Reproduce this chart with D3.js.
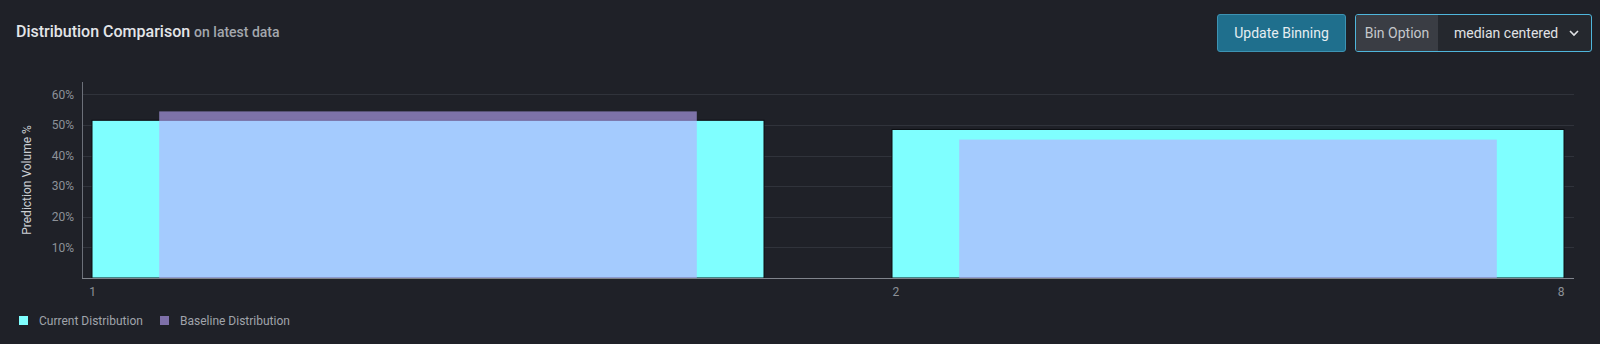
<!DOCTYPE html>
<html>
<head>
<meta charset="utf-8">
<script src="https://cdn.jsdelivr.net/npm/d3@7"></script>
<style>
  html, body { margin: 0; padding: 0; background: #1f2128; }
  body { width: 1600px; height: 344px; position: relative; overflow: hidden; font-family: Roboto, "Noto Sans", sans-serif; }
  #title { position: absolute; left: 16px; top: 22px; color: #e3e5e8; font-size: 16px; font-weight: 500; }
  #title span { color: #a3a7ad; font-size: 14px; font-weight: 500; }
  .btn { position: absolute; top: 14px; height: 38px; box-sizing: border-box; border-radius: 3px; font-size: 14px; }
  #update { left: 1217px; width: 129px; background: #1f6f8d; border: 1px solid #3d93b3; color: #e6eef2; line-height: 36px; text-align: center; }
  #binopt { left: 1355px; width: 237px; border: 1px solid #4fb6dc; background: #25282e; color: #e0e2e5; display: flex; overflow: hidden; }
  #binopt .lbl { width: 82px; background: #3a3d44; color: #c5c8cc; line-height: 36px; text-align: center; }
  #binopt .val { flex: 1; line-height: 36px; padding-left: 16px; }
  #binopt svg { position: absolute; right: 12px; top: 14px; }
</style>
</head>
<body>
<div id="title">Distribution Comparison <span>on latest data</span></div>
<div id="update" class="btn">Update Binning</div>
<div id="binopt" class="btn"><div class="lbl">Bin Option</div><div class="val">median centered</div>
  <svg width="10" height="8"><path d="M1,2 L5,6 L9,2" fill="none" stroke="#e0e2e5" stroke-width="1.6"/></svg></div>
<div id="chart"></div>
<script>
// bins of the distribution and their edge labels
var bins = ["1", "2"];
var edgeLabels = ["1", "2", "8"];

// prediction volume %
var currentPct = [51.5, 48.5];
var baselinePct = [54.4, 45.2];

var yTicks = [10, 20, 30, 40, 50, 60];

var legendItems = ["Current Distribution", "Baseline Distribution"];
var legendColors = ["#7fffff", "#7e70a9"];

var svg = d3.select("#chart")
  .append("svg")
    .attr("width", 1600)
    .attr("height", 344)
    .style("position", "absolute")
    .style("left", 0)
    .style("top", 0);

// plot area
var plotLeft = 82, plotRight = 1574, plotTop = 82, plotBottom = 278;

var x = d3.scaleBand()
    .domain(bins)
    .range([plotLeft, plotRight])
    .paddingInner(0.16)
    .paddingOuter(0.0125);

var y = d3.scaleLinear()
    .domain([0, 64])
    .range([plotBottom, plotTop]);

// gridlines
svg.append("g")
  .selectAll("line")
  .data(yTicks)
  .join("line")
    .attr("x1", plotLeft)
    .attr("x2", plotRight)
    .attr("y1", function(d) { return Math.round(y(d)) + 0.5; })
    .attr("y2", function(d) { return Math.round(y(d)) + 0.5; })
    .attr("stroke", "#30333b")
    .attr("stroke-width", 1);

// y axis
var yAxis = svg.append("g")
    .attr("transform", "translate(" + plotLeft + ",0)")
    .call(d3.axisLeft(y).tickValues(yTicks).tickSize(0).tickPadding(8)
      .tickFormat(function(d) { return d + "%"; }));
yAxis.select(".domain").attr("stroke", "#6c7079").attr("d", "M0.5," + plotTop + "V" + plotBottom);
yAxis.selectAll("text").attr("fill", "#8d9198").style("font-size", "12px").style("font-family", "Roboto, sans-serif");

svg.append("text")
    .attr("transform", "translate(31," + ((plotTop + plotBottom) / 2) + ") rotate(-90)")
    .attr("text-anchor", "middle")
    .attr("fill", "#cdd0d4")
    .style("font-size", "12px")
    .text("Prediction Volume %");

// current distribution bars
svg.append("g")
  .selectAll("rect")
  .data(bins)
  .join("rect")
    .attr("x", function(d) { return x(d); })
    .attr("y", function(d, i) { return y(currentPct[i]); })
    .attr("width", x.bandwidth())
    .attr("height", function(d, i) { return plotBottom - y(currentPct[i]); })
    .attr("fill", "#7fffff")
    .attr("stroke", "#0b0c10")
    .attr("stroke-width", 1);

// baseline bars, drawn on top with transparency
var inset = x.bandwidth() * 0.1;
svg.append("g")
  .selectAll("rect")
  .data(bins)
  .join("rect")
    .attr("x", function(d) { return x(d) + inset; })
    .attr("y", function(d, i) { return y(baselinePct[i]); })
    .attr("width", x.bandwidth() - 2 * inset)
    .attr("height", function(d, i) { return plotBottom - y(baselinePct[i]); })
    .attr("fill", "#bda8fd")
    .attr("fill-opacity", 0.6);

// x axis with bin edges
var edgeScale = d3.scaleOrdinal()
    .domain(edgeLabels)
    .range([x("1"), x("2"), x("2") + x.bandwidth()]);
var xAxis = svg.append("g")
    .attr("transform", "translate(0," + plotBottom + ")")
    .call(d3.axisBottom(edgeScale).tickSize(0).tickPadding(9));
xAxis.select(".domain").attr("stroke", "#80848c").attr("d", "M" + plotLeft + ",0.5H" + plotRight);
xAxis.selectAll("text")
    .attr("fill", "#8d9198")
    .attr("text-anchor", function(d, i) { return ["middle", "start", "end"][i]; })
    .style("font-size", "12px")
    .style("font-family", "Roboto, sans-serif");

// legend
var legend = svg.append("g")
  .selectAll("g")
  .data(legendItems)
  .join("g")
    .attr("transform", function(d, i) { return "translate(" + [19, 160][i] + ",316)"; });
legend.append("rect")
    .attr("width", 9)
    .attr("height", 9)
    .attr("fill", function(d, i) { return legendColors[i]; });
legend.append("text")
    .attr("x", 20)
    .attr("y", 9)
    .attr("fill", "#a0a4ab")
    .style("font-size", "12px")
    .text(function(d) { return d; });
</script>
</body>
</html>
